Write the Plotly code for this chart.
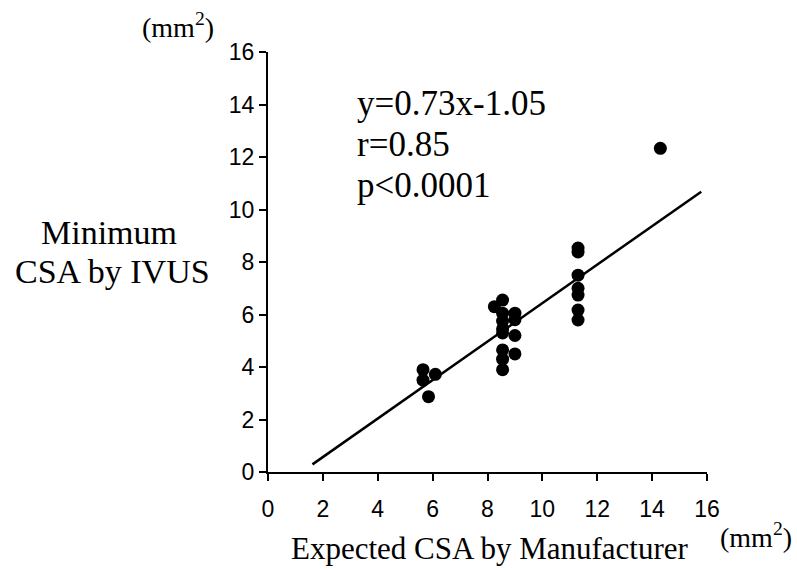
import plotly.graph_objects as go

# Data (Expected CSA by manufacturer vs minimum CSA by IVUS, mm^2)
expected_csa = [5.65, 5.65, 6.1, 5.85,
                8.25, 8.55, 8.55, 8.55, 8.55, 8.55, 8.55, 8.55, 8.55,
                9.0, 9.0, 9.0, 9.0,
                11.3, 11.3, 11.3, 11.3, 11.3, 11.3, 11.3,
                14.3]
ivus_csa = [3.9, 3.5, 3.72, 2.87,
            6.3, 6.55, 6.05, 5.75, 5.45, 5.3, 4.65, 4.3, 3.9,
            6.05, 5.8, 5.2, 4.5,
            8.53, 8.38, 7.5, 7.0, 6.74, 6.17, 5.79,
            12.33]
fit_x = [1.62, 15.79]
fit_y = [0.29, 10.68]
tick_vals = [0, 2, 4, 6, 8, 10, 12, 14, 16]
stats_lines = ["y=0.73x-1.05", "r=0.85", "p<0.0001"]

serif = "Liberation Serif, Times New Roman, serif"
sans = "Liberation Sans, Arial, sans-serif"

fig = go.Figure()
fig.add_trace(go.Scatter(x=fit_x, y=fit_y, mode="lines",
                         line=dict(color="black", width=2.5), showlegend=False))
fig.add_trace(go.Scatter(x=expected_csa, y=ivus_csa, mode="markers",
                         marker=dict(color="black", size=13), showlegend=False))

axis_common = dict(range=[0, 16], tickvals=tick_vals, showgrid=False, zeroline=False,
                   showline=True, linecolor="black", linewidth=2,
                   ticks="outside", ticklen=7, tickwidth=2, tickcolor="black",
                   tickfont=dict(family=sans, size=23, color="black"))

W, H, L, T = 439, 420, 268, 52


def px(xp, yp):
    return (xp - L) / W, (T + H - yp) / H


annotations = []
for i, line in enumerate(stats_lines):
    ax, ay = px(355, 103 + 41 * i)
    annotations.append(dict(text=line, xref="paper", yref="paper", x=ax, y=ay,
                            xanchor="left", yanchor="middle", showarrow=False,
                            font=dict(family=serif, size=35, color="black")))

for txt, (cx, cy), size in [("Minimum", (109, 232), 34),
                             ("CSA by IVUS", (112, 271), 34),
                             ("(mm<sup>2</sup>)", (178, 25), 28),
                             ("Expected CSA by Manufacturer", (490, 548), 31),
                             ("(mm<sup>2</sup>)", (756, 535), 28)]:
    ax, ay = px(cx, cy)
    annotations.append(dict(text=txt, xref="paper", yref="paper", x=ax, y=ay,
                            xanchor="center", yanchor="middle", showarrow=False,
                            font=dict(family=serif, size=size, color="black")))

fig.update_layout(
    width=797, height=570,
    margin=dict(l=L, r=797 - L - W, t=T, b=570 - T - H),
    paper_bgcolor="white", plot_bgcolor="white",
    xaxis=dict(**axis_common, ticklabelstandoff=8),
    yaxis=dict(**axis_common),
    annotations=annotations,
)

fig.write_html("out.html")
